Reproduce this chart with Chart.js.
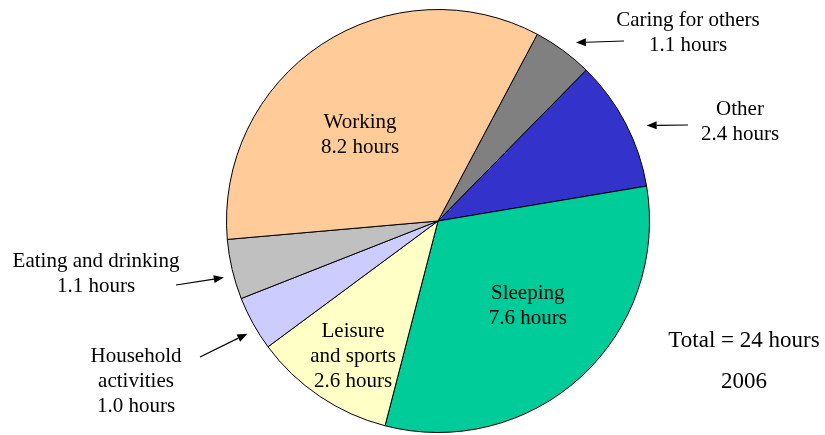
<!DOCTYPE html>
<html>
<head>
<meta charset="utf-8">
<script src="https://cdn.jsdelivr.net/npm/chart.js@4/dist/chart.umd.min.js"></script>
<style>
  html, body { margin: 0; padding: 0; background: #fff; }
  canvas { display: block; }
</style>
</head>
<body>
<canvas id="pie" width="825" height="435"></canvas>
<script>
// Time use, hours per day, 2006 (slices clockwise from the top-right)
const categories = [
  ["Caring for others"],
  ["Other"],
  ["Sleeping"],
  ["Leisure", "and sports"],
  ["Household", "activities"],
  ["Eating and drinking"],
  ["Working"],
];
const hours = [1.1, 2.4, 7.6, 2.6, 1.0, 1.1, 8.2];
const sliceColors = ["#808080", "#3333CC", "#00CC99", "#FFFFC6", "#CCCCFF", "#C0C0C0", "#FFCC99"];
const totalLines = ["Total = 24 hours", "2006"];

const FONT = '"Liberation Serif", "Times New Roman", serif';
const LINE = 25;

// labels drawn inside their slice: polar position (fraction of radius, degrees clockwise from top)
const insideLabels = [
  { index: 6, r: 0.555, angle: 318.4 },
  { index: 2, r: 0.58, angle: 133.0 },
  { index: 3, r: 0.75, angle: 212.4 },
];

// labels drawn outside with an arrow pointing at the slice
const outsideLabels = [
  { index: 0, x: 688, y: 26, tail: [624, 41], tipR: 14, tipAngle: 37.7 },
  { index: 1, x: 740, y: 115, tail: [688, 125], tipR: 18, tipAngle: 65.4 },
  { index: 5, x: 96, y: 267, tail: [176, 285], tipR: 10, tipAngle: 255.2 },
  { index: 4, x: 136, y: 362, tail: [200, 357], tipR: 10, tipAngle: 239.4 },
];

function textLines(i) {
  return [...categories[i], hours[i].toFixed(1) + " hours"];
}

function polar(cx, cy, dist, deg) {
  const a = (deg - 90) * Math.PI / 180;
  return [cx + dist * Math.cos(a), cy + dist * Math.sin(a)];
}

function arrow(ctx, from, to) {
  const ang = Math.atan2(to[1] - from[1], to[0] - from[0]);
  const len = 10, half = 4;
  const bx = to[0] - len * Math.cos(ang), by = to[1] - len * Math.sin(ang);
  ctx.beginPath();
  ctx.moveTo(from[0], from[1]);
  ctx.lineTo(bx, by);
  ctx.lineWidth = 1.2;
  ctx.strokeStyle = "#000";
  ctx.stroke();
  ctx.beginPath();
  ctx.moveTo(to[0], to[1]);
  ctx.lineTo(bx + half * Math.sin(ang), by - half * Math.cos(ang));
  ctx.lineTo(bx - half * Math.sin(ang), by + half * Math.cos(ang));
  ctx.closePath();
  ctx.fillStyle = "#000";
  ctx.fill();
}

const sliceLabels = {
  id: "sliceLabels",
  afterDatasetsDraw(chart) {
    const ctx = chart.ctx;
    const arcs = chart.getDatasetMeta(0).data;
    const { x: cx, y: cy, outerRadius: R } = arcs[0].getProps(["x", "y", "outerRadius"], true);

    ctx.save();
    ctx.fillStyle = "#000";
    ctx.textAlign = "center";
    ctx.textBaseline = "alphabetic";
    ctx.font = "21px " + FONT;

    insideLabels.forEach(l => {
      const lines = textLines(l.index);
      const [px, py] = polar(cx, cy, R * l.r, l.angle);
      lines.forEach((t, k) => {
        ctx.fillText(t, px, py + (k - (lines.length - 1) / 2) * LINE + 7);
      });
    });

    outsideLabels.forEach(l => {
      const lines = textLines(l.index);
      lines.forEach((t, k) => ctx.fillText(t, l.x, l.y + k * LINE));
      const tip = polar(cx, cy, R + l.tipR, l.tipAngle);
      arrow(ctx, l.tail, tip);
    });

    ctx.fillStyle = "#000";
    ctx.font = "23px " + FONT;
    ctx.fillText(totalLines[0], 744, 347);
    ctx.fillText(totalLines[1], 744, 388);
    ctx.restore();
  }
};

new Chart(document.getElementById("pie"), {
  type: "pie",
  data: {
    labels: categories.map(c => c.join(" ")),
    datasets: [{
      data: hours,
      backgroundColor: sliceColors,
      borderColor: "#000",
      borderWidth: 1,
      hoverOffset: 0,
    }],
  },
  options: {
    responsive: false,
    animation: false,
    rotation: 28,
    layout: { padding: { left: 226, right: 175, top: 9, bottom: 2 } },
    plugins: {
      legend: { display: false },
      tooltip: { enabled: false },
    },
  },
  plugins: [sliceLabels],
});
</script>
</body>
</html>
